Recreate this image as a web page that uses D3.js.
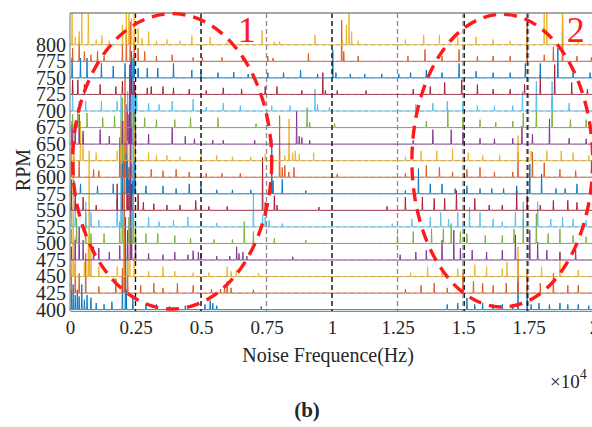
<!DOCTYPE html>
<html>
<head>
<meta charset="utf-8">
<script src="https://cdn.jsdelivr.net/npm/d3@7"></script>
<style>
  html, body { margin: 0; padding: 0; background: #fff; }
  svg { display: block; }
  text { font-family: "Liberation Serif", "Times New Roman", serif; fill: #262626; }
</style>
</head>
<body>
<svg id="chart" width="592" height="427"></svg>
<script>
// Noise spectra stacked by rotor speed: each series is a list of spectral peaks
// [frequency (x10^4 Hz), amplitude (drawn in RPM-axis units above its baseline)].
const rpmLevels = [400, 425, 450, 475, 500, 525, 550, 575, 600, 625, 650, 675, 700, 725, 750, 775, 800];
const xTickValues = [0, 0.25, 0.5, 0.75, 1, 1.25, 1.5, 1.75, 2];
const xTickLabels = ["0", "0.25", "0.5", "0.75", "1", "1.25", "1.5", "1.75", "2"];
const markerLines = [0.25, 0.5, 1.0, 1.505, 1.745];

const peaks400 = [[0.005,30],[0.012,38],[0.02,22],[0.028,30],[0.035,20],[0.045,38],[0.055,15],[0.065,22],[0.08,18],[0.1,10],[0.13,8],[0.16,12],[0.2,50],[0.212,140],[0.215,30],[0.24,22],[0.29,8],[0.33,8],[0.38,5],[0.44,6],[0.515,8],[0.535,14],[0.545,10],[0.56,6],[0.73,5],[1.44,8],[1.48,10],[1.515,18],[1.545,8],[1.575,10],[1.615,8],[1.65,8],[1.69,8],[1.71,42],[1.745,30],[1.76,8],[1.79,10],[1.83,8],[1.87,10],[1.9,8],[1.94,8],[1.98,6]];
const peaks425 = [[0.005,45],[0.02,45],[0.035,30],[0.06,60],[0.11,10],[0.175,22],[0.2,38],[0.207,210],[0.22,50],[0.27,12],[0.32,15],[0.355,8],[0.41,15],[0.47,12],[0.54,6],[0.575,6],[0.59,12],[0.6,18],[0.615,8],[0.7,5],[1.28,6],[1.34,12],[1.39,15],[1.44,8],[1.5,30],[1.54,18],[1.575,15],[1.615,12],[1.665,15],[1.71,50],[1.745,30],[1.795,15],[1.845,30],[1.9,12],[1.94,12]];
const peaks450 = [[0.005,45],[0.012,160],[0.02,60],[0.055,22],[0.07,60],[0.073,190],[0.08,40],[0.11,15],[0.18,15],[0.205,60],[0.22,60],[0.228,260],[0.245,30],[0.3,8],[0.355,15],[0.4,8],[0.47,6],[0.53,6],[0.6,15],[0.615,8],[0.635,10],[0.72,5],[1.3,6],[1.365,15],[1.42,15],[1.48,12],[1.545,18],[1.59,15],[1.65,12],[1.668,22],[1.71,45],[1.745,12],[1.8,15],[1.87,38],[1.94,10]];
const peaks475 = [[0.005,20],[0.02,30],[0.035,50],[0.05,30],[0.09,20],[0.11,18],[0.15,12],[0.19,22],[0.22,45],[0.232,300],[0.235,60],[0.25,40],[0.3,10],[0.355,8],[0.4,12],[0.45,8],[0.47,14],[0.49,12],[0.5,10],[0.56,6],[0.61,6],[0.636,20],[0.645,10],[0.66,12],[0.675,6],[0.85,5],[1.26,8],[1.32,12],[1.36,15],[1.42,30],[1.465,45],[1.49,18],[1.535,15],[1.59,12],[1.65,15],[1.7,38],[1.755,45],[1.785,27],[1.82,15],[1.87,12],[1.93,15]];
const peaks500 = [[0.005,22],[0.025,38],[0.06,45],[0.08,15],[0.13,15],[0.19,33],[0.2,220],[0.225,40],[0.235,60],[0.242,280],[0.25,25],[0.29,15],[0.335,15],[0.4,12],[0.46,8],[0.55,6],[0.62,6],[0.665,33],[0.7,18],[0.78,8],[0.9,5],[1.25,12],[1.31,18],[1.38,22],[1.425,22],[1.455,30],[1.49,18],[1.515,15],[1.585,12],[1.65,12],[1.695,22],[1.73,38],[1.78,45],[1.825,15],[1.87,22],[1.92,12],[1.97,10]];
const peaks525 = [[0.005,30],[0.02,38],[0.06,38],[0.08,22],[0.11,10],[0.18,45],[0.195,200],[0.2,40],[0.236,250],[0.24,22],[0.3,15],[0.34,8],[0.395,10],[0.45,15],[0.5,8],[0.56,6],[0.7,50],[0.735,18],[0.745,15],[0.76,10],[0.81,5],[1.23,5],[1.305,12],[1.375,15],[1.415,22],[1.445,12],[1.48,22],[1.525,30],[1.565,22],[1.615,12],[1.65,8],[1.7,22],[1.73,38],[1.785,38],[1.835,12],[1.88,15],[1.92,12],[1.97,10]];
const peaks550 = [[0.005,30],[0.02,25],[0.05,20],[0.1,8],[0.18,40],[0.2,30],[0.218,160],[0.225,45],[0.235,40],[0.26,25],[0.28,12],[0.32,10],[0.37,8],[0.42,8],[0.48,15],[0.53,6],[0.6,6],[0.735,80],[0.745,12],[0.78,22],[0.79,8],[0.95,5],[1.21,6],[1.28,20],[1.345,20],[1.39,18],[1.43,18],[1.475,30],[1.545,18],[1.6,8],[1.65,8],[1.705,30],[1.745,22],[1.795,8],[1.845,15],[1.9,15],[1.935,12]];
const peaks575 = [[0.005,22],[0.015,20],[0.04,15],[0.105,12],[0.165,15],[0.2,45],[0.215,60],[0.225,40],[0.24,20],[0.248,160],[0.29,12],[0.355,12],[0.405,8],[0.455,15],[0.5,12],[0.56,6],[0.62,6],[0.69,6],[0.762,12],[0.77,83],[0.775,20],[0.81,22],[0.9,5],[1.28,5],[1.33,38],[1.375,15],[1.42,15],[1.47,8],[1.515,12],[1.565,8],[1.61,8],[1.655,8],[1.705,12],[1.755,45],[1.8,30],[1.855,8],[1.89,8],[1.935,15]];
const peaks600 = [[0.005,45],[0.015,30],[0.035,25],[0.09,12],[0.11,10],[0.19,60],[0.205,50],[0.21,150],[0.22,25],[0.235,20],[0.31,12],[0.355,10],[0.405,12],[0.455,8],[0.52,6],[0.58,6],[0.65,6],[0.8,93],[0.81,15],[0.82,18],[0.835,8],[0.855,15],[1.02,5],[1.28,6],[1.36,18],[1.41,15],[1.46,8],[1.515,12],[1.565,15],[1.62,8],[1.69,8],[1.71,38],[1.765,38],[1.81,22],[1.87,12],[1.93,10]];
const peaks625 = [[0.006,60],[0.015,45],[0.04,60],[0.05,40],[0.1,12],[0.18,15],[0.195,60],[0.205,60],[0.22,30],[0.245,60],[0.3,12],[0.33,8],[0.37,8],[0.42,6],[0.5,10],[0.56,8],[0.62,6],[0.69,6],[0.745,10],[0.82,8],[0.836,63],[0.85,12],[0.86,15],[0.875,10],[0.93,12],[1.28,6],[1.34,15],[1.4,15],[1.46,18],[1.52,12],[1.575,8],[1.64,8],[1.71,38],[1.76,15],[1.82,15],[1.875,15],[1.92,12],[1.98,8]];
const peaks650 = [[0.008,30],[0.02,30],[0.035,45],[0.05,20],[0.115,22],[0.15,12],[0.2,35],[0.225,45],[0.228,120],[0.235,30],[0.25,25],[0.3,15],[0.39,25],[0.44,12],[0.475,8],[0.545,6],[0.585,6],[0.705,6],[0.865,50],[0.875,12],[0.885,10],[0.915,6],[1.31,6],[1.385,22],[1.455,22],[1.5,18],[1.565,9],[1.62,8],[1.69,9],[1.725,27],[1.765,15],[1.83,38],[1.905,9],[1.97,8]];
const peaks675 = [[0.01,20],[0.03,30],[0.065,22],[0.125,15],[0.17,18],[0.235,38],[0.245,22],[0.285,15],[0.33,12],[0.4,12],[0.46,15],[0.565,15],[0.71,6],[0.8,5],[0.905,30],[0.915,8],[1.01,6],[1.36,10],[1.442,27],[1.5,15],[1.565,12],[1.625,8],[1.69,10],[1.73,22],[1.78,27],[1.84,45],[1.91,12],[1.97,12]];
const peaks700 = [[0.01,38],[0.035,15],[0.06,15],[0.12,15],[0.18,15],[0.22,30],[0.235,45],[0.24,80],[0.245,40],[0.255,25],[0.3,12],[0.34,10],[0.39,15],[0.47,18],[0.52,6],[0.585,12],[0.65,8],[0.77,8],[0.84,8],[0.935,33],[0.945,10],[0.99,6],[1.32,10],[1.385,12],[1.44,15],[1.5,15],[1.555,8],[1.62,8],[1.69,8],[1.727,30],[1.78,45],[1.84,45],[1.905,12],[1.97,12]];
const peaks725 = [[0.01,22],[0.03,22],[0.055,15],[0.115,15],[0.175,12],[0.2,20],[0.235,30],[0.245,20],[0.295,10],[0.31,12],[0.355,12],[0.395,10],[0.455,8],[0.52,6],[0.585,10],[0.655,8],[0.745,12],[0.79,12],[0.885,6],[0.965,33],[0.975,6],[1.02,6],[1.13,6],[1.31,8],[1.375,12],[1.43,18],[1.495,22],[1.555,15],[1.615,8],[1.68,8],[1.735,15],[1.795,28],[1.85,45],[1.915,18],[1.975,8]];
const peaks750 = [[0.008,30],[0.04,30],[0.065,30],[0.12,22],[0.165,18],[0.21,22],[0.235,40],[0.245,35],[0.26,15],[0.295,15],[0.335,15],[0.395,22],[0.465,12],[0.5,8],[0.565,8],[0.625,9],[0.68,6],[0.755,8],[0.815,8],[0.88,12],[0.945,6],[1.003,42],[1.015,8],[1.07,6],[1.125,6],[1.19,6],[1.255,6],[1.3,8],[1.36,12],[1.42,8],[1.485,22],[1.55,10],[1.615,8],[1.68,8],[1.738,22],[1.795,22],[1.862,45],[1.92,8],[1.985,8]];
const peaks775 = [[0.01,20],[0.035,30],[0.055,15],[0.08,10],[0.105,15],[0.13,8],[0.2,25],[0.215,40],[0.23,60],[0.245,30],[0.26,20],[0.285,15],[0.33,8],[0.39,10],[0.47,6],[0.505,6],[0.58,6],[0.66,6],[0.755,8],[0.775,5],[0.91,12],[1.037,62],[1.045,15],[1.1,8],[1.29,8],[1.355,18],[1.42,8],[1.485,18],[1.555,8],[1.615,8],[1.68,8],[1.745,58],[1.81,10],[1.845,22],[1.88,70],[1.935,8],[1.99,6]];
const peaks800 = [[0.008,60],[0.02,12],[0.035,20],[0.045,60],[0.07,60],[0.1,8],[0.122,14],[0.15,6],[0.2,30],[0.215,60],[0.225,60],[0.235,40],[0.245,60],[0.26,25],[0.275,10],[0.3,20],[0.33,6],[0.37,8],[0.42,6],[0.465,14],[0.535,12],[0.6,4],[0.733,22],[0.78,5],[0.8,5],[0.935,15],[1.04,8],[1.055,30],[1.065,60],[1.075,20],[1.1,6],[1.28,8],[1.35,15],[1.41,15],[1.48,12],[1.55,12],[1.615,8],[1.68,6],[1.745,15],[1.81,60],[1.82,60],[1.88,60],[1.94,6]];

const peakLists = [peaks400, peaks425, peaks450, peaks475, peaks500, peaks525, peaks550, peaks575,
  peaks600, peaks625, peaks650, peaks675, peaks700, peaks725, peaks750, peaks775, peaks800];

// MATLAB default line colour order
const lineColors = ["#0072BD", "#D95319", "#EDB120", "#7E2F8E", "#77AC30", "#4DBEEE", "#A2142F"];

// Highlighted regions: centre (freq, rpm), radii (freq, rpm), label position
const regions = [
  { label: "1", cf: 0.39, crpm: 624, rf: 0.38, rrpm: 223, lf: 0.675, lrpm: 804 },
  { label: "2", cf: 1.65, crpm: 625, rf: 0.345, rrpm: 221, lf: 1.93, lrpm: 804 }
];

const svg = d3.select("#chart");
const plot = { left: 70, right: 594, top: 13, bottom: 311 };

const x = d3.scaleLinear().domain([0, 2]).range([plot.left, plot.right]);
const y = d3.scaleLinear().domain([398, 848]).range([plot.bottom, plot.top]);

svg.append("defs").append("clipPath").attr("id", "plotClip")
  .append("rect")
  .attr("x", plot.left).attr("y", plot.top)
  .attr("width", plot.right - plot.left).attr("height", plot.bottom - plot.top);

const body = svg.append("g").attr("clip-path", "url(#plotClip)");

// vertical grid
body.append("g").selectAll("line").data(xTickValues.slice(1, -1)).join("line")
  .attr("x1", d => x(d)).attr("x2", d => x(d))
  .attr("y1", plot.top).attr("y2", plot.bottom)
  .attr("stroke", "#8c8c8c").attr("stroke-width", 1.3).attr("stroke-dasharray", "5,3");

// spectra, lowest speed first so higher rows overlay
const halfWidth = 0.0016;
const line = d3.line().x(d => x(d[0])).y(d => y(d[1]));

rpmLevels.forEach((rpm, i) => {
  const pts = [[0, rpm]];
  peakLists[i].slice().sort((a, b) => a[0] - b[0]).forEach(([f, a]) => {
    pts.push([f - halfWidth, rpm], [f, rpm + a], [f + halfWidth, rpm]);
  });
  pts.push([2, rpm]);
  body.append("path")
    .attr("d", line(pts))
    .attr("fill", "none")
    .attr("stroke", lineColors[i % lineColors.length])
    .attr("stroke-width", 1)
    .attr("stroke-linejoin", "bevel")
    .attr("opacity", 0.9);
});

// horizontal grid over the baselines
body.append("g").selectAll("line").data(rpmLevels).join("line")
  .attr("x1", plot.left).attr("x2", plot.right)
  .attr("y1", d => y(d)).attr("y2", d => y(d))
  .attr("stroke", "#8c8c8c").attr("stroke-width", 1).attr("stroke-dasharray", "4,3")
  .attr("opacity", 0.5);

// black dashed marker lines
body.append("g").selectAll("line").data(markerLines).join("line")
  .attr("x1", d => x(d)).attr("x2", d => x(d))
  .attr("y1", plot.top).attr("y2", plot.bottom)
  .attr("stroke", "#111").attr("stroke-width", 1.2).attr("stroke-dasharray", "5,3");

// axes frame
svg.append("line").attr("x1", plot.left).attr("x2", plot.right)
  .attr("y1", plot.top).attr("y2", plot.top).attr("stroke", "#8a8a8a").attr("stroke-width", 1.5);
svg.append("line").attr("x1", plot.left).attr("x2", plot.left)
  .attr("y1", plot.top).attr("y2", plot.bottom).attr("stroke", "#8a8a8a").attr("stroke-width", 1.2);

// axes
const xAxis = d3.axisBottom(x).tickValues(xTickValues)
  .tickFormat((d, i) => xTickLabels[i]).tickSize(0).tickPadding(10);
const gx = svg.append("g").attr("transform", `translate(0,${plot.bottom})`).call(xAxis);
gx.select(".domain").attr("stroke", "#8a8a8a");
gx.selectAll("text").attr("font-size", 19).attr("font-family", "Liberation Serif").attr("fill", "#262626");

const yAxis = d3.axisLeft(y).tickValues(rpmLevels).tickSize(0).tickPadding(4);
const gy = svg.append("g").attr("transform", `translate(${plot.left},0)`).call(yAxis);
gy.select(".domain").remove();
gy.selectAll("text").attr("font-size", 20).attr("font-family", "Liberation Serif").attr("fill", "#262626");

// highlighted regions
regions.forEach(r => {
  svg.append("ellipse")
    .attr("cx", x(r.cf)).attr("cy", y(r.crpm))
    .attr("rx", x(r.rf) - x(0)).attr("ry", y(0) - y(r.rrpm))
    .attr("fill", "none").attr("stroke", "#ff1a1a").attr("stroke-width", 3.4)
    .attr("stroke-dasharray", "13,8");
  svg.append("text").attr("x", x(r.lf)).attr("y", y(r.lrpm))
    .attr("text-anchor", "middle").attr("font-size", 36)
    .style("fill", "#ff1a1a").text(r.label);
});

// labels
svg.append("text").attr("x", 328).attr("y", 362).attr("text-anchor", "middle")
  .attr("font-size", 20).text("Noise Frequence(Hz)");
svg.append("text").attr("transform", "translate(30,170) rotate(-90)").attr("text-anchor", "middle")
  .attr("font-size", 20).text("RPM");
const sci = svg.append("text").attr("x", 550).attr("y", 388).attr("font-size", 19);
sci.append("tspan").text("\u00d710");
sci.append("tspan").attr("font-size", 14).attr("dy", -9).text("4");
svg.append("text").attr("x", 307).attr("y", 417).attr("text-anchor", "middle")
  .attr("font-size", 21).attr("font-weight", "bold").text("(b)");
</script>
</body>
</html>
